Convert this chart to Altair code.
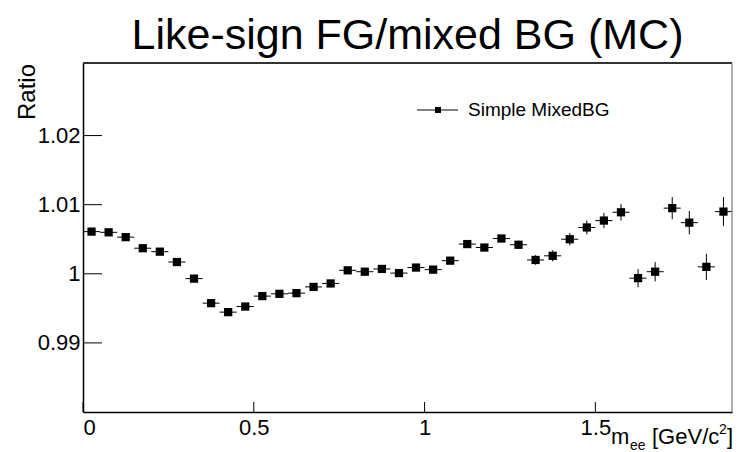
import altair as alt
import pandas as pd

# ---- data ----
mass = [0.025, 0.075, 0.125, 0.175, 0.225, 0.275, 0.325, 0.375, 0.425, 0.475,
        0.525, 0.575, 0.625, 0.675, 0.725, 0.775, 0.825, 0.875, 0.925, 0.975,
        1.025, 1.075, 1.125, 1.175, 1.225, 1.275, 1.325, 1.375, 1.425, 1.475,
        1.525, 1.575, 1.625, 1.675, 1.725, 1.775, 1.825, 1.875]
ratio = [1.0061, 1.0060, 1.0053, 1.0037, 1.0032, 1.0017, 0.9993, 0.99575, 0.99445, 0.99526,
         0.99677, 0.9971, 0.9972, 0.9981, 0.9986, 1.0005, 1.0003, 1.0007, 1.0001, 1.0009,
         1.0006, 1.0019, 1.0043, 1.0038, 1.0051, 1.0042, 1.0020, 1.0026, 1.0050, 1.0067,
         1.0077, 1.0089, 0.99937, 1.0003, 1.0095, 1.0074, 1.0010, 1.0090]
err = [0.0002, 0.0002, 0.0002, 0.0002, 0.0002, 0.0002, 0.0002, 0.0003, 0.0003, 0.0003,
       0.0003, 0.0003, 0.0003, 0.0003, 0.0003, 0.0003, 0.0003, 0.0003, 0.0004, 0.0004,
       0.0004, 0.0004, 0.0005, 0.0005, 0.0005, 0.0006, 0.0007, 0.0008, 0.0009, 0.0010,
       0.0011, 0.0012, 0.0013, 0.0014, 0.0016, 0.0017, 0.0019, 0.0021]
bin_half_width = 0.025
x_ticks = [0, 0.5, 1, 1.5]
y_ticks = [0.99, 1.0, 1.01, 1.02]
x_domain = [0, 1.9]
y_domain = [0.98, 1.0305]

df = pd.DataFrame({"mass": mass, "ratio": ratio, "err": err})
df["xlo"] = df["mass"] - bin_half_width
df["xhi"] = df["mass"] + bin_half_width
df["ylo"] = df["ratio"] - df["err"]
df["yhi"] = df["ratio"] + df["err"]

W, H = 649, 349
FONT = "Liberation Sans"

xs = alt.Scale(domain=x_domain, nice=False, zero=False)
ys = alt.Scale(domain=y_domain, nice=False, zero=False)
xaxis = alt.Axis(values=x_ticks, labelExpr="format(datum.value, '~g')", title=None)
yaxis = alt.Axis(values=y_ticks, labelExpr="format(datum.value, '~g')", title=None)


def X(f):
    return alt.X(f, type="quantitative", scale=xs, axis=xaxis)


def Y(f):
    return alt.Y(f, type="quantitative", scale=ys, axis=yaxis)


base = alt.Chart(df)
hbars = base.mark_rule(color="black", strokeWidth=1).encode(x=X("xlo"), x2="xhi", y=Y("ratio"))
vbars = base.mark_rule(color="black", strokeWidth=1).encode(x=X("mass"), y=Y("ylo"), y2="yhi")
pts = base.mark_square(color="black", size=68, opacity=1).encode(x=X("mass"), y=Y("ratio"))

ytk = alt.Chart(pd.DataFrame({"v": y_ticks})).mark_rule(color="black", strokeWidth=1).encode(
    y=Y("v"), x=alt.value(0), x2=alt.value(19))
xtk = alt.Chart(pd.DataFrame({"v": x_ticks})).mark_rule(color="black", strokeWidth=1).encode(
    x=X("v"), y=alt.value(H), y2=alt.value(H - 10))

one = alt.Data(values=[{}])
top_line = alt.Chart(one).mark_rule(color="#333333", strokeWidth=2).encode(
    x=alt.value(0), x2=alt.value(W), y=alt.value(0))
right_line = alt.Chart(one).mark_rule(color="#777777", strokeWidth=1.2).encode(
    x=alt.value(W), y=alt.value(0), y2=alt.value(H))


def txt(text, x, y, size, align="left", baseline="alphabetic", angle=0):
    kw = dict(text=text, fontSize=size, font=FONT, align=align, baseline=baseline, color="black")
    if angle:
        kw["angle"] = angle
    return alt.Chart(one).mark_text(**kw).encode(x=alt.value(x), y=alt.value(y))


title = txt("Like-sign FG/mixed BG (MC)", W / 2, -14, 43, align="center")
ylab = txt("Ratio", -55, 29, 24, align="center", baseline="middle", angle=270)
xl1 = txt("m", 528, 381, 22)
xl2 = txt("ee", 547, 387, 14)
xl3 = txt("[GeV/c", 569, 381, 22)
xl4 = txt("2", 636, 371, 14)
xl5 = txt("]", 644, 381, 22)

leg_line = alt.Chart(one).mark_rule(color="black", strokeWidth=1).encode(
    x=alt.value(334), x2=alt.value(375), y=alt.value(47))
leg_pt = alt.Chart(one).mark_square(color="black", size=36, opacity=1).encode(
    x=alt.value(355), y=alt.value(47))
leg_txt = txt("Simple MixedBG", 385, 47, 19, baseline="middle")

chart = alt.layer(
    hbars, vbars, pts, ytk, xtk, top_line, right_line,
    title, ylab, xl1, xl2, xl3, xl4, xl5, leg_line, leg_pt, leg_txt
).properties(
    width=W, height=H,
    autosize=alt.AutoSizeParams(type="none"),
    padding={"left": 83, "top": 63, "right": 10, "bottom": 40},
    background="white",
).configure_view(stroke=None).configure_axis(
    ticks=False, grid=False, domainColor="black", domainWidth=1.5,
    labelFont=FONT, labelFontSize=22, labelColor="black",
).configure_axisX(labelPadding=5).configure_axisY(labelPadding=3)

chart.save("out.html", embed_options={"renderer": "svg", "actions": False})
